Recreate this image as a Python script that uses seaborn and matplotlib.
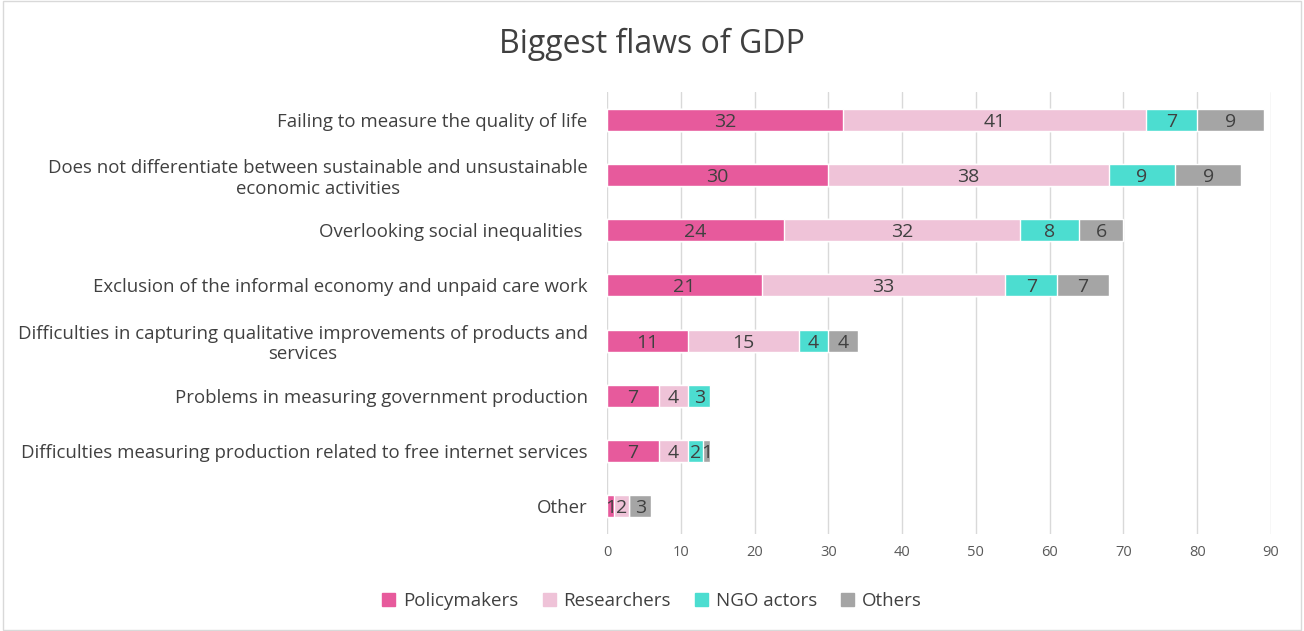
import matplotlib
matplotlib.use("Agg")
import matplotlib.pyplot as plt
import seaborn as sns
import pandas as pd
import numpy as np
from matplotlib.patches import Rectangle

categories = [
    "Failing to measure the quality of life",
    "Does not differentiate between sustainable and unsustainable\neconomic activities",
    "Overlooking social inequalities ",
    "Exclusion of the informal economy and unpaid care work",
    "Difficulties in capturing qualitative improvements of products and\nservices",
    "Problems in measuring government production",
    "Difficulties measuring production related to free internet services",
    "Other",
]
policymakers = [32, 30, 24, 21, 11, 7, 7, 1]
researchers = [41, 38, 32, 33, 15, 4, 4, 2]
ngo_actors = [7, 9, 8, 7, 4, 3, 2, 0]
others = [9, 9, 6, 7, 4, 0, 1, 3]
series_names = ["Policymakers", "Researchers", "NGO actors", "Others"]
colors = ["#E75A9C", "#EFC3D8", "#4CDDD0", "#A5A5A5"]
x_ticks = list(range(0, 91, 10))

sns.set_theme(style="white")
plt.rcParams['font.family'] = ['Open Sans', 'DejaVu Sans']

fig = plt.figure(figsize=(13.04, 6.31), dpi=100)
ax = fig.add_axes([0.4655, 0.1545, 0.5092, 0.699])

vals = np.array([policymakers, researchers, ngo_actors, others])
cum = vals.cumsum(axis=0)

# draw cumulative bars from largest to smallest so they stack visually
for i in range(3, -1, -1):
    df = pd.DataFrame({"cat": categories, "v": cum[i]})
    sns.barplot(data=df, x="v", y="cat", orient="h", color=colors[i],
                width=0.4, saturation=1, ax=ax, errorbar=None, zorder=3)

for i in range(4):
    for j in range(len(categories)):
        v = vals[i, j]
        if v == 0:
            continue
        center = cum[i, j] - v / 2
        ax.text(center, j, str(v), ha="center", va="center_baseline",
                fontsize=14, color="#404040", zorder=5)

ax.set_xlim(0, 90)
ax.set_ylim(len(categories) - 0.5, -0.5)
ax.set_xticks(x_ticks)
ax.tick_params(axis="x", labelsize=10.5, colors="#595959", length=0, pad=8)
ax.tick_params(axis="y", labelsize=13.4, colors="#404040", length=0, pad=14)
for lbl in ax.get_yticklabels():
    lbl.set_multialignment("center")
ax.set_xlabel("")
ax.set_ylabel("")
ax.grid(axis="x", color="#D9D9D9", linewidth=1, zorder=0)
ax.set_axisbelow(True)
for s in ax.spines.values():
    s.set_visible(False)

fig.text(0.5, 0.929, "Biggest flaws of GDP", ha="center", va="center",
         fontsize=23, color="#404040")

handles = [Rectangle((0, 0), 1, 1, color=c) for c in colors]
fig.legend(handles, series_names, loc="center", bbox_to_anchor=(0.5, 0.048),
           ncol=4, frameon=False, fontsize=13.5, handlelength=0.7, handleheight=0.7,
           columnspacing=1.3, handletextpad=0.4, labelcolor="#404040")

fig.patches.append(Rectangle((0.002, 0.002), 0.996, 0.996, transform=fig.transFigure,
                             fill=False, edgecolor="#D9D9D9", linewidth=1))

fig.savefig("out.png", dpi=100)
